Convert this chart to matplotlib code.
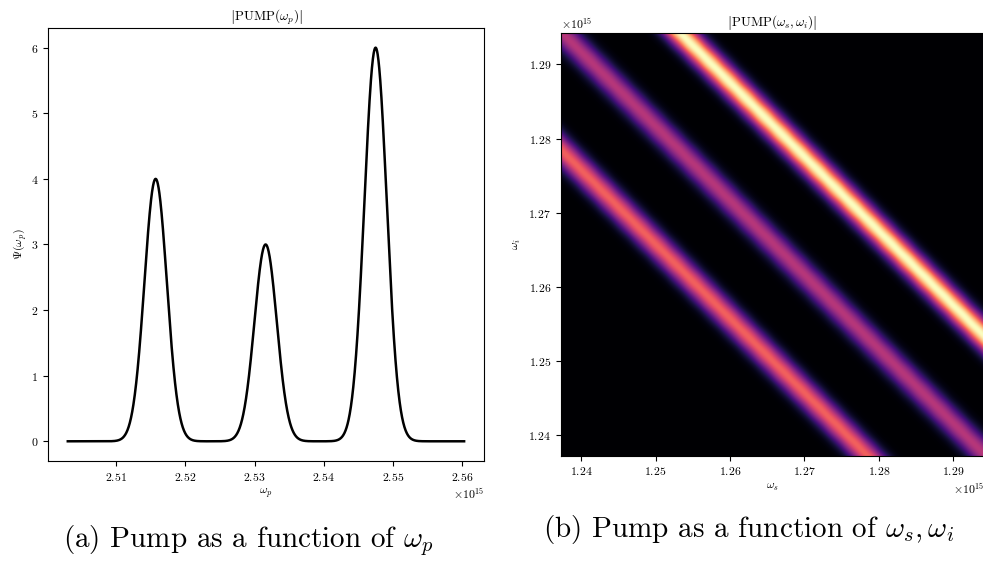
import numpy as np
import matplotlib
matplotlib.use("Agg")
import matplotlib.pyplot as plt

# --- values ---
# pump spectrum: three gaussian peaks (centres in 1e15 rad/s, heights, common width)
peak_centres = [2.5157, 2.5316, 2.5475]
peak_heights = [4.0, 3.0, 6.0]
peak_sigma = 0.00162
wp_range = [2.5030, 2.5603]          # sampled omega_p range (x1e15)
ws_range = [1.23727, 1.29417]        # omega_s / omega_i window (x1e15)

wp_ticks = [2.51, 2.52, 2.53, 2.54, 2.55, 2.56]
ws_ticks = [1.24, 1.25, 1.26, 1.27, 1.28, 1.29]
psi_ticks = [0, 1, 2, 3, 4, 5, 6]

caption_a = r"(a) Pump as a function of $\omega_p$"
caption_b = r"(b) Pump as a function of $\omega_s, \omega_i$"

plt.rcParams["font.family"] = "serif"
plt.rcParams["font.serif"] = ["cmr10", "DejaVu Serif"]
plt.rcParams["mathtext.fontset"] = "cm"
plt.rcParams["axes.formatter.use_mathtext"] = True
plt.rcParams["font.size"] = 8.5


def pump(w):
    # w in units of 1e15
    out = np.zeros_like(w)
    for c, h in zip(peak_centres, peak_heights):
        out += h * np.exp(-((w - c) ** 2) / (2 * peak_sigma ** 2))
    return out


fig = plt.figure(figsize=(9.83, 5.61), dpi=100)

# (a) pump vs omega_p
ax1 = fig.add_axes([0.0488, 0.1783, 0.4435, 0.7718])
wp = np.linspace(wp_range[0], wp_range[1], 2000)
ax1.plot(wp * 1e15, pump(wp), color="black", lw=1.8)
ax1.set_xticks(np.array(wp_ticks) * 1e15)
ax1.set_yticks(psi_ticks)
ax1.set_xlabel(r"$\omega_p$", fontsize=8.5, labelpad=3)
ax1.set_ylabel(r"$\Psi(\omega_p)$", fontsize=8.5, labelpad=1)
ax1.set_title(r"$\left|\mathrm{PUMP}(\omega_p)\right|$", fontsize=9.5, pad=5)

# (b) pump vs omega_s, omega_i
ax2 = fig.add_axes([0.5704, 0.1877, 0.4311, 0.7529])
ws = np.linspace(ws_range[0], ws_range[1], 400)
WS, WI = np.meshgrid(ws, ws)
Z = pump(WS + WI)
ax2.imshow(Z, cmap="magma", origin="lower", aspect="auto",
           extent=[ws_range[0] * 1e15, ws_range[1] * 1e15,
                   ws_range[0] * 1e15, ws_range[1] * 1e15])
ax2.set_xticks(np.array(ws_ticks) * 1e15)
ax2.set_yticks(np.array(ws_ticks) * 1e15)
ax2.set_xlabel(r"$\omega_s$", fontsize=8.5, labelpad=3)
ax2.set_ylabel(r"$\omega_i$", fontsize=8.5, labelpad=4)
ax2.set_title(r"$\left|\mathrm{PUMP}(\omega_s, \omega_i)\right|$", fontsize=9.5, pad=5)

fig.text(0.2528, 0.0357, caption_a, fontsize=21, ha="center", va="center")
fig.text(0.7615, 0.057, caption_b, fontsize=21, ha="center", va="center")

fig.savefig("out.png", dpi=100)
